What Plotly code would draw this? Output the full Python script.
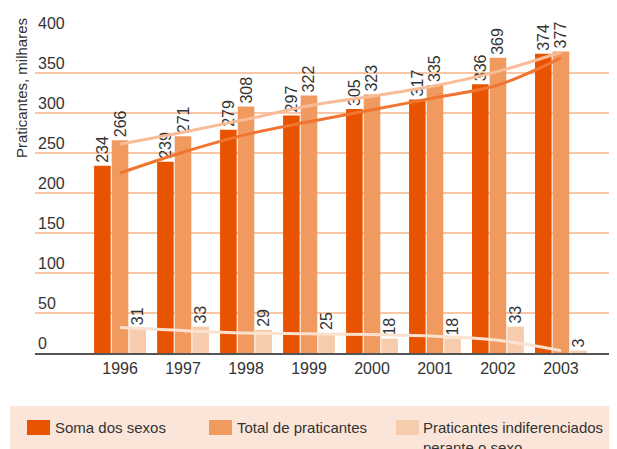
import plotly.graph_objects as go

years = ["1996", "1997", "1998", "1999", "2000", "2001", "2002", "2003"]
soma = [234, 239, 279, 297, 305, 317, 336, 374]
total = [266, 271, 308, 322, 323, 335, 369, 377]
indif = [31, 33, 29, 25, 18, 18, 33, 3]
trend_total = [261, 276, 292, 309, 321, 334, 352, 376]
trend_soma = [225, 251, 273, 289, 304, 319, 335, 369]
trend_indif = [32, 28, 25, 24, 23, 21, 16, 3]
series_names = ["Soma dos sexos", "Total de praticantes",
                "Praticantes indiferenciados<br>perante o sexo"]
y_ticks = [0, 50, 100, 150, 200, 250, 300, 350, 400]

C_DARK = "#E85300"
C_MED = "#F19A60"
C_LIGHT = "#F7CCAD"
FONT = "Liberation Sans, Arial, sans-serif"
TXT = "#333333"

# page offset caused by the default body margin of the html page
OFF = 8
PAGE_W, PAGE_H = 617, 449
FIG_W, FIG_H = PAGE_W - OFF, PAGE_H - OFF

fig = go.Figure()
for vals, col, name in [(soma, C_DARK, series_names[0]),
                        (total, C_MED, series_names[1]),
                        (indif, C_LIGHT, series_names[2])]:
    fig.add_trace(go.Bar(
        x=years, y=vals, name=name, marker_color=col, marker_line_width=0,
        text=[str(v) for v in vals], textposition="outside", textangle=-90,
        textfont=dict(family=FONT, size=16, color=TXT),
        cliponaxis=False, constraintext="none", showlegend=False))

for vals, col in [(trend_soma, "#F07530"), (trend_total, "#F8BD98"),
                  (trend_indif, "#FBE2D0")]:
    fig.add_trace(go.Scatter(
        x=years, y=vals, mode="lines", line=dict(color=col, width=3, shape="spline"),
        showlegend=False, hoverinfo="skip"))

# plot area geometry (page pixels)
L, R, T, B = 35, 617, 33, 353
W, H = R - L, B - T
def px(x):
    return (x - L) / W
def py(y):
    return (B - y) / H

shapes = [dict(type="rect", xref="paper", yref="paper", x0=px(10), x1=px(620),
               y0=py(406), y1=py(460), fillcolor="#FBE5D9", line_width=0, layer="below")]
annotations = []
sw_x = [27, 209, 396]
tx_x = [53, 235, 421]
cols = [C_DARK, C_MED, C_LIGHT]
for i in range(3):
    shapes.append(dict(type="rect", xref="paper", yref="paper",
                       x0=px(sw_x[i]), x1=px(sw_x[i] + 23), y0=py(420), y1=py(435),
                       fillcolor=cols[i], line_width=0))
    annotations.append(dict(xref="paper", yref="paper", x=px(tx_x[i]), y=py(417),
                            xanchor="left", yanchor="top", showarrow=False, align="left",
                            text=series_names[i],
                            font=dict(family=FONT, size=15, color=TXT)))

annotations.append(dict(xref="paper", yref="y", x=px(21), y=(B - 88) / 0.8,
                        xanchor="center", yanchor="middle", showarrow=False,
                        textangle=-90, text="Praticantes, milhares",
                        font=dict(family=FONT, size=15, color=TXT)))

fig.update_layout(
    width=FIG_W, height=FIG_H,
    margin=dict(l=L - OFF, r=0, t=T - OFF, b=PAGE_H - B),
    paper_bgcolor="white", plot_bgcolor="white",
    barmode="group", bargap=0.16, bargroupgap=0.06,
    font=dict(family=FONT, size=16, color=TXT),
    shapes=shapes, annotations=annotations,
    xaxis=dict(range=[-1.35, 7.89], showgrid=False, showline=True,
               linecolor="#555555", linewidth=2, ticks="",
               tickfont=dict(family=FONT, size=16, color=TXT)),
    yaxis=dict(range=[0, 400], tickvals=y_ticks, showgrid=True,
               gridcolor="#F9C6A6", gridwidth=2, zeroline=False, showline=False,
               ticklabelposition="inside", ticklabelshift=-10, ticklabeloverflow="allow",
               tickfont=dict(family=FONT, size=16, color=TXT)),
)

fig.write_html("out.html")
